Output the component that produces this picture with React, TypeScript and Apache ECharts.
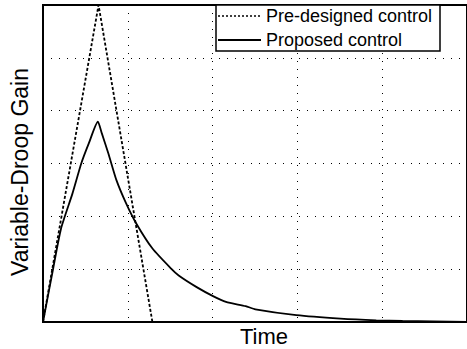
import React, { useEffect, useRef } from "react";
import * as echarts from "echarts";

const seriesNames = ["Pre-designed control", "Proposed control"];
const xAxisName = "Time";
const yAxisName = "Variable-Droop Gain";

// [time, gain]
const preDesigned: [number, number][] = [
  [0, 0], [6.55, 6.0], [12.9, 0], [50, 0],
];

const proposed: [number, number][] = [
  [0, 0], [1.16, 0.98], [2.13, 1.77], [3.47, 2.43], [4.51, 3.0], [5.4, 3.38],
  [6.47, 3.79], [6.94, 3.57], [7.71, 3.19], [8.67, 2.68], [9.79, 2.25],
  [10.98, 1.87], [12.91, 1.39], [15.11, 1.01], [16.0, 0.88], [18.12, 0.66],
  [20.05, 0.49], [21.58, 0.38], [23.9, 0.3], [25.05, 0.24], [29.87, 0.13],
  [35.07, 0.065], [39.3, 0.032], [42.4, 0.019], [50, 0.004],
];

export default function App() {
  const ref = useRef<HTMLDivElement>(null);
  useEffect(() => {
    if (!ref.current) return;
    const chart = echarts.init(ref.current, null, { renderer: "svg" });
    const font = "'Liberation Sans', Arial, Helvetica, sans-serif";
    const gridLine = { show: true, lineStyle: { color: "#000", width: 1, type: [1, 7] as any } };
    chart.setOption({
      animation: false,
      backgroundColor: "#fff",
      grid: {
        left: 43, top: 5, width: 432, height: 317,
        show: true, borderColor: "#000", borderWidth: 2, backgroundColor: "transparent",
      },
      xAxis: {
        type: "value", min: 0, max: 50, interval: 10,
        axisLine: { show: false }, axisTick: { show: false }, axisLabel: { show: false },
        splitLine: gridLine,
      },
      yAxis: {
        type: "value", min: 0, max: 6, interval: 1,
        axisLine: { show: false }, axisTick: { show: false }, axisLabel: { show: false },
        splitLine: gridLine,
      },
      series: [
        {
          name: seriesNames[0], type: "line", data: preDesigned, symbol: "none",
          lineStyle: { color: "#000", width: 1.8, type: [3, 2] as any }, z: 3,
        },
        {
          name: seriesNames[1], type: "line", data: proposed, symbol: "none", smooth: 0.2,
          lineStyle: { color: "#000", width: 1.8, type: "solid" }, z: 4,
        },
      ],
      graphic: [
        { type: "rect", z: 100, shape: { x: 216, y: 5, width: 224, height: 46 },
          style: { fill: "#fff", stroke: "#000", lineWidth: 1.5 } },
        { type: "line", z: 101, shape: { x1: 218, y1: 16, x2: 261, y2: 16 },
          style: { stroke: "#000", lineWidth: 1.5, lineDash: [2, 2] } },
        { type: "text", z: 101, x: 266, y: 16,
          style: { text: seriesNames[0], font: `18px ${font}`, fill: "#000", textAlign: "left", textVerticalAlign: "middle" } },
        { type: "line", z: 101, shape: { x1: 218, y1: 40, x2: 261, y2: 40 },
          style: { stroke: "#000", lineWidth: 1.8 } },
        { type: "text", z: 101, x: 266, y: 40,
          style: { text: seriesNames[1], font: `18px ${font}`, fill: "#000", textAlign: "left", textVerticalAlign: "middle" } },
        { type: "text", z: 101, x: 264, y: 336,
          style: { text: xAxisName, font: `22px ${font}`, fill: "#000", textAlign: "center", textVerticalAlign: "middle" } },
        { type: "text", z: 101, x: 20, y: 172, rotation: Math.PI / 2,
          style: { text: yAxisName, font: `23px ${font}`, fill: "#000", textAlign: "center", textVerticalAlign: "middle" } },
      ],
    });
    return () => chart.dispose();
  }, []);
  return <div ref={ref} style={{ width: 467, height: 349, position: "absolute", left: 0, top: 0 }} />;
}
